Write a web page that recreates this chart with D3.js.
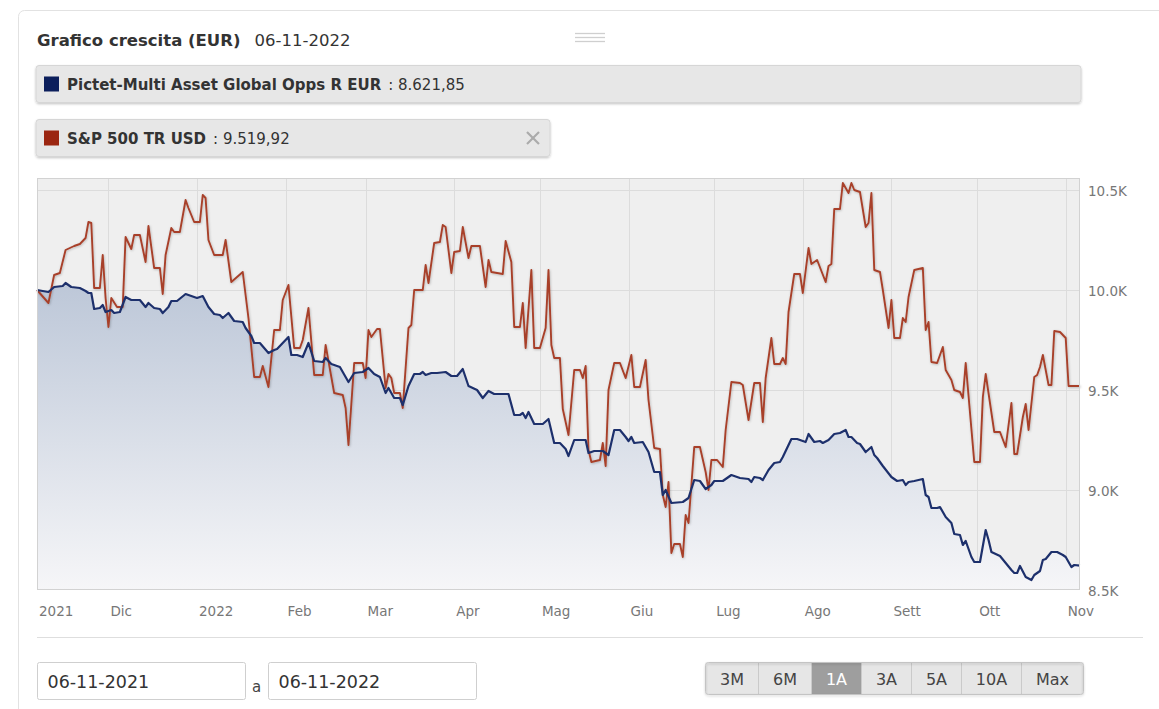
<!DOCTYPE html>
<html>
<head>
<meta charset="utf-8">
<script src="https://cdn.jsdelivr.net/npm/d3@7"></script>
<style>
  body { margin: 0; background: #fff; }
  svg { display: block; font-family: "DejaVu Sans", Verdana, sans-serif; }
</style>
</head>
<body>
<svg id="chart" width="1159" height="709"></svg>
<script>
// ---- data ----
const chartTitle = "Grafico crescita (EUR)";
const chartDate = "06-11-2022";
const fundName = "Pictet-Multi Asset Global Opps R EUR";
const fundLast = "8.621,85";
const indexName = "S&P 500 TR USD";
const indexLast = "9.519,92";
const rangeFrom = "06-11-2021";
const rangeTo = "06-11-2022";
const rangeButtons = ["3M", "6M", "1A", "3A", "5A", "10A", "Max"];
const activeButton = "1A";

const monthTicks = ["2021-11-06","2021-12-01","2022-01-01","2022-02-01","2022-03-01","2022-04-01","2022-05-01",
  "2022-06-01","2022-07-01","2022-08-01","2022-09-01","2022-10-01","2022-11-01"];
const monthLabels = ["2021","Dic","2022","Feb","Mar","Apr","Mag","Giu","Lug","Ago","Sett","Ott","Nov"];
const yTicks = [8500, 9000, 9500, 10000, 10500];

const fundSeries = [["2021-11-06",10000],["2021-11-10",9990],["2021-11-12",10015],["2021-11-15",10020],["2021-11-16",10035],["2021-11-18",10015],["2021-11-21",10010],["2021-11-23",9995],["2021-11-24",9985],["2021-11-25",9985],["2021-11-26",9905],["2021-11-28",9910],["2021-11-29",9925],["2021-11-30",9890],["2021-12-02",9900],["2021-12-03",9885],["2021-12-05",9890],["2021-12-07",9965],["2021-12-09",9950],["2021-12-12",9950],["2021-12-14",9915],["2021-12-15",9935],["2021-12-17",9910],["2021-12-19",9905],["2021-12-20",9885],["2021-12-22",9915],["2021-12-23",9945],["2021-12-25",9945],["2021-12-28",9980],["2021-12-30",9970],
  ["2022-01-01",9960],["2022-01-03",9970],["2022-01-05",9915],["2022-01-07",9880],["2022-01-09",9875],["2022-01-10",9860],["2022-01-12",9885],["2022-01-14",9845],["2022-01-17",9840],["2022-01-18",9810],["2022-01-20",9770],["2022-01-21",9735],["2022-01-23",9735],["2022-01-26",9685],["2022-01-28",9700],["2022-01-29",9705],
  ["2022-02-01",9750],["2022-02-02",9765],["2022-02-03",9675],["2022-02-05",9675],["2022-02-07",9665],["2022-02-09",9735],["2022-02-11",9645],["2022-02-14",9640],["2022-02-15",9660],["2022-02-17",9630],["2022-02-20",9615],["2022-02-23",9540],["2022-02-25",9585],["2022-02-28",9590],
  ["2022-03-02",9610],["2022-03-04",9580],["2022-03-06",9565],["2022-03-08",9485],["2022-03-09",9510],["2022-03-11",9460],["2022-03-13",9460],["2022-03-14",9425],["2022-03-16",9520],["2022-03-18",9580],["2022-03-20",9580],["2022-03-21",9590],["2022-03-22",9575],["2022-03-24",9585],["2022-03-26",9585],["2022-03-29",9590],["2022-03-31",9570],
  ["2022-04-02",9570],["2022-04-04",9605],["2022-04-06",9520],["2022-04-09",9500],["2022-04-11",9460],["2022-04-13",9495],["2022-04-15",9480],["2022-04-20",9480],["2022-04-22",9375],["2022-04-24",9375],["2022-04-25",9385],["2022-04-26",9360],["2022-04-27",9390],["2022-04-29",9330],
  ["2022-05-02",9330],["2022-05-04",9355],["2022-05-06",9235],["2022-05-08",9235],["2022-05-10",9205],["2022-05-11",9170],["2022-05-13",9250],["2022-05-17",9250],["2022-05-18",9185],["2022-05-20",9195],["2022-05-23",9195],["2022-05-25",9175],["2022-05-27",9300],["2022-05-29",9300],["2022-05-31",9265],
  ["2022-06-01",9245],["2022-06-02",9265],["2022-06-03",9235],["2022-06-06",9240],["2022-06-08",9190],["2022-06-10",9090],["2022-06-12",9090],["2022-06-13",8975],["2022-06-14",9000],["2022-06-16",8935],["2022-06-20",8940],["2022-06-22",8960],["2022-06-24",9050],["2022-06-26",9045],["2022-06-28",9005],["2022-06-30",9025],
  ["2022-07-01",9045],["2022-07-04",9045],["2022-07-06",9065],["2022-07-07",9075],["2022-07-10",9060],["2022-07-13",9055],["2022-07-14",9040],["2022-07-15",9065],["2022-07-17",9060],["2022-07-18",9050],["2022-07-20",9100],["2022-07-22",9135],["2022-07-24",9140],["2022-07-25",9165],["2022-07-28",9255],["2022-07-30",9255],
  ["2022-08-02",9240],["2022-08-03",9280],["2022-08-05",9240],["2022-08-07",9245],["2022-08-08",9235],["2022-08-10",9250],["2022-08-12",9280],["2022-08-14",9285],["2022-08-16",9300],["2022-08-17",9265],["2022-08-18",9265],["2022-08-20",9235],["2022-08-21",9230],["2022-08-23",9190],["2022-08-25",9215],["2022-08-26",9175],["2022-08-27",9160],["2022-08-29",9120],
  ["2022-09-01",9065],["2022-09-03",9045],["2022-09-05",9050],["2022-09-06",9025],["2022-09-07",9040],["2022-09-09",9045],["2022-09-12",9055],["2022-09-13",8975],["2022-09-14",8965],["2022-09-15",8910],["2022-09-17",8910],["2022-09-18",8915],["2022-09-20",8865],["2022-09-22",8835],["2022-09-23",8780],["2022-09-25",8775],["2022-09-26",8725],["2022-09-27",8745],["2022-09-29",8665],["2022-09-30",8640],
  ["2022-10-02",8640],["2022-10-04",8800],["2022-10-05",8750],["2022-10-06",8690],["2022-10-09",8670],["2022-10-11",8635],["2022-10-13",8600],["2022-10-14",8585],["2022-10-15",8585],["2022-10-16",8620],["2022-10-18",8565],["2022-10-20",8550],["2022-10-21",8575],["2022-10-23",8595],["2022-10-24",8650],["2022-10-25",8655],["2022-10-27",8690],["2022-10-29",8690],["2022-10-31",8675],
  ["2022-11-01",8665],["2022-11-03",8615],["2022-11-04",8625],["2022-11-06",8621.85]];

const indexSeries = [["2021-11-06",10000],["2021-11-10",9935],["2021-11-12",10075],["2021-11-14",10085],["2021-11-16",10200],["2021-11-19",10220],["2021-11-21",10230],["2021-11-23",10260],["2021-11-24",10340],["2021-11-25",10335],["2021-11-26",10010],["2021-11-28",10010],["2021-11-29",10175],["2021-11-30",9960],
  ["2021-12-01",9815],["2021-12-02",9960],["2021-12-04",9915],["2021-12-06",9915],["2021-12-07",10265],["2021-12-09",10205],["2021-12-10",10275],["2021-12-12",10275],["2021-12-14",10140],["2021-12-15",10320],["2021-12-17",10110],["2021-12-19",10110],["2021-12-20",9980],["2021-12-21",10175],["2021-12-23",10310],["2021-12-24",10290],["2021-12-26",10290],["2021-12-28",10450],["2021-12-29",10410],["2021-12-31",10340],
  ["2022-01-02",10340],["2022-01-03",10475],["2022-01-04",10460],["2022-01-05",10250],["2022-01-07",10175],["2022-01-10",10175],["2022-01-11",10250],["2022-01-13",10040],["2022-01-15",10065],["2022-01-17",10090],["2022-01-19",9860],["2022-01-21",9565],["2022-01-23",9565],["2022-01-24",9620],["2022-01-26",9515],["2022-01-28",9800],["2022-01-30",9800],["2022-01-31",9950],
  ["2022-02-02",10025],["2022-02-04",9710],["2022-02-06",9710],["2022-02-07",9750],["2022-02-09",9910],["2022-02-11",9575],["2022-02-14",9575],["2022-02-15",9725],["2022-02-18",9485],["2022-02-21",9475],["2022-02-22",9410],["2022-02-23",9225],["2022-02-25",9635],["2022-02-28",9635],
  ["2022-03-01",9560],["2022-03-02",9800],["2022-03-03",9765],["2022-03-05",9805],["2022-03-06",9805],["2022-03-08",9510],["2022-03-09",9580],["2022-03-10",9560],["2022-03-11",9485],["2022-03-13",9485],["2022-03-14",9410],["2022-03-16",9810],["2022-03-17",9825],["2022-03-18",10000],["2022-03-21",10000],["2022-03-22",10125],["2022-03-23",10035],["2022-03-25",10235],["2022-03-27",10240],["2022-03-28",10325],["2022-03-29",10315],["2022-03-31",10085],
  ["2022-04-01",10190],["2022-04-03",10195],["2022-04-04",10315],["2022-04-06",10160],["2022-04-07",10220],["2022-04-10",10220],["2022-04-12",10015],["2022-04-13",10150],["2022-04-14",10090],["2022-04-18",10080],["2022-04-19",10245],["2022-04-21",10140],["2022-04-22",9815],["2022-04-24",9815],["2022-04-25",9935],["2022-04-26",9710],["2022-04-28",10100],["2022-04-29",9710],
  ["2022-05-01",9710],["2022-05-03",9810],["2022-05-04",10100],["2022-05-05",9725],["2022-05-06",9660],["2022-05-08",9660],["2022-05-09",9405],["2022-05-11",9275],["2022-05-13",9600],["2022-05-15",9600],["2022-05-16",9560],["2022-05-17",9620],["2022-05-18",9200],["2022-05-19",9140],["2022-05-22",9150],["2022-05-23",9235],["2022-05-24",9120],["2022-05-25",9500],["2022-05-27",9635],["2022-05-29",9635],["2022-05-31",9560],
  ["2022-06-02",9675],["2022-06-03",9515],["2022-06-05",9515],["2022-06-07",9650],["2022-06-08",9450],["2022-06-10",9210],["2022-06-12",9205],["2022-06-13",8975],["2022-06-14",8915],["2022-06-15",9040],["2022-06-16",8685],["2022-06-17",8730],["2022-06-19",8730],["2022-06-20",8665],["2022-06-21",8875],["2022-06-22",8835],["2022-06-24",9215],["2022-06-26",9215],["2022-06-28",9090],["2022-06-29",9000],["2022-06-30",9150],
  ["2022-07-02",9150],["2022-07-04",9115],["2022-07-05",9300],["2022-07-07",9540],["2022-07-10",9535],["2022-07-11",9525],["2022-07-13",9350],["2022-07-15",9535],["2022-07-17",9535],["2022-07-18",9340],["2022-07-19",9560],["2022-07-21",9760],["2022-07-22",9630],["2022-07-24",9630],["2022-07-25",9660],["2022-07-26",9630],["2022-07-27",9890],["2022-07-29",10080],["2022-07-31",10080],
  ["2022-08-01",9985],["2022-08-03",10210],["2022-08-04",10130],["2022-08-06",10150],["2022-08-09",10040],["2022-08-10",10120],["2022-08-11",10130],["2022-08-12",10405],["2022-08-14",10405],["2022-08-15",10535],["2022-08-17",10485],["2022-08-18",10535],["2022-08-19",10500],["2022-08-21",10490],["2022-08-23",10315],["2022-08-24",10335],["2022-08-25",10485],["2022-08-26",10100],["2022-08-28",10090],["2022-08-29",10000],["2022-08-31",9810],
  ["2022-09-01",9950],["2022-09-02",9760],["2022-09-04",9760],["2022-09-05",9860],["2022-09-06",9840],["2022-09-07",9965],["2022-09-09",10100],["2022-09-12",10110],["2022-09-13",9800],["2022-09-14",9840],["2022-09-15",9640],["2022-09-17",9635],["2022-09-19",9715],["2022-09-20",9600],["2022-09-22",9550],["2022-09-23",9500],["2022-09-25",9490],["2022-09-26",9460],["2022-09-27",9635],["2022-09-30",9140],
  ["2022-10-02",9140],["2022-10-03",9465],["2022-10-04",9580],["2022-10-07",9290],["2022-10-09",9290],["2022-10-11",9215],["2022-10-13",9435],["2022-10-14",9180],["2022-10-15",9180],["2022-10-17",9365],["2022-10-18",9430],["2022-10-19",9300],["2022-10-21",9565],["2022-10-22",9575],["2022-10-23",9615],["2022-10-24",9675],["2022-10-26",9525],["2022-10-27",9525],["2022-10-28",9795],["2022-10-30",9790],
  ["2022-11-01",9760],["2022-11-02",9520],["2022-11-06",9519.92]];

// ---- setup ----
const parse = d3.timeParse("%Y-%m-%d");
const fund = fundSeries.map(d => ({ date: parse(d[0]), value: d[1] }));
const index = indexSeries.map(d => ({ date: parse(d[0]), value: d[1] }));

const svg = d3.select("#chart");
const plot = { left: 37, right: 1080, top: 178, bottom: 590 };

const x = d3.scaleTime()
  .domain([parse("2021-11-06"), parse("2022-11-06")])
  .range([plot.left, plot.right]);
const y = d3.scaleLinear()
  .domain([8500, 10560])
  .range([plot.bottom, plot.top]);

const defs = svg.append("defs");
const grad = defs.append("linearGradient")
  .attr("id", "areaFill").attr("gradientUnits", "userSpaceOnUse")
  .attr("x1", 0).attr("x2", 0).attr("y1", plot.top).attr("y2", plot.bottom);
grad.append("stop").attr("offset", "0%").attr("stop-color", "#a9b7cd");
grad.append("stop").attr("offset", "100%").attr("stop-color", "#f6f6f8");

const shadow = defs.append("filter").attr("id", "boxShadow")
  .attr("x", "-5%").attr("y", "-20%").attr("width", "110%").attr("height", "150%");
shadow.append("feDropShadow").attr("dx", 0).attr("dy", 1.2).attr("stdDeviation", 1.2)
  .attr("flood-color", "#000").attr("flood-opacity", 0.22);

const lineShadow = defs.append("filter").attr("id", "lineShadow")
  .attr("x", "-5%").attr("y", "-5%").attr("width", "110%").attr("height", "110%");
lineShadow.append("feDropShadow").attr("dx", 0.6).attr("dy", 0.8).attr("stdDeviation", 0.8)
  .attr("flood-color", "#000").attr("flood-opacity", 0.25);

// outer card
svg.append("rect")
  .attr("x", 18.5).attr("y", 10.5).attr("width", 1160).attr("height", 720).attr("rx", 6)
  .attr("fill", "none").attr("stroke", "#e2e2e2");

// title
const title = svg.append("text").attr("x", 37).attr("y", 46)
  .attr("font-size", 16.5).attr("fill", "#333");
title.append("tspan").attr("font-weight", "bold").text(chartTitle);
title.append("tspan").attr("dx", 14).text(chartDate);

// drag handle
svg.selectAll(".handle").data([33, 37, 41]).join("line")
  .attr("x1", 575).attr("x2", 605).attr("y1", d => d + 0.5).attr("y2", d => d + 0.5)
  .attr("stroke", "#cfcfcf").attr("stroke-width", 1.3);

// legend boxes
function legendBox(top, width, color, name, last, closable) {
  const g = svg.append("g").attr("transform", `translate(36,${top})`);
  g.append("rect").attr("width", width).attr("height", 37).attr("rx", 3)
    .attr("fill", "#e7e7e7").attr("stroke", "#d6d6d6").attr("filter", "url(#boxShadow)");
  g.append("rect").attr("x", 8).attr("y", 11).attr("width", 15).attr("height", 15).attr("fill", color);
  const t = g.append("text").attr("x", 31).attr("y", 24.5).attr("font-size", 15).attr("fill", "#333");
  t.append("tspan").attr("font-weight", "bold").text(name);
  t.append("tspan").attr("dx", 7).text(": " + last);
  if (closable) {
    g.selectAll(".x").data([[-1, 1], [1, 1]]).join("line")
      .attr("x1", d => width - 17 - 6 * d[0]).attr("y1", 18.5 - 6)
      .attr("x2", d => width - 17 + 6 * d[0]).attr("y2", 18.5 + 6)
      .attr("stroke", "#ababab").attr("stroke-width", 2.2);
  }
}
legendBox(65.5, 1045, "#0c1f5c", fundName, fundLast, false);
legendBox(119.5, 514, "#9b2611", indexName, indexLast, true);

// plot background + grid
svg.append("rect")
  .attr("x", plot.left).attr("y", plot.top)
  .attr("width", plot.right - plot.left).attr("height", plot.bottom - plot.top)
  .attr("fill", "#efefef");

const tickDates = monthTicks.map(parse);
svg.append("g").selectAll("line").data(tickDates.slice(1)).join("line")
  .attr("x1", d => Math.round(x(d)) + 0.5).attr("x2", d => Math.round(x(d)) + 0.5)
  .attr("y1", plot.top).attr("y2", plot.bottom)
  .attr("stroke", "#dcdcdc");
svg.append("g").selectAll("line").data(yTicks.slice(1)).join("line")
  .attr("x1", plot.left).attr("x2", plot.right)
  .attr("y1", d => Math.round(y(d)) + 0.5).attr("y2", d => Math.round(y(d)) + 0.5)
  .attr("stroke", "#dcdcdc");

// fund area + lines
const area = d3.area().x(d => x(d.date)).y0(plot.bottom).y1(d => y(d.value));
const line = d3.line().x(d => x(d.date)).y(d => y(d.value));

svg.append("path").datum(fund).attr("d", area).attr("fill", "url(#areaFill)");

svg.append("path").datum(index).attr("d", line)
  .attr("fill", "none").attr("stroke", "#a8412a").attr("stroke-width", 1.9)
  .attr("stroke-linejoin", "round").attr("filter", "url(#lineShadow)");

svg.append("path").datum(fund).attr("d", line)
  .attr("fill", "none").attr("stroke", "#1d306c").attr("stroke-width", 2.2)
  .attr("stroke-linejoin", "round");

// frame
svg.append("rect")
  .attr("x", plot.left + 0.5).attr("y", plot.top + 0.5)
  .attr("width", plot.right - plot.left - 1).attr("height", plot.bottom - plot.top - 1)
  .attr("fill", "none").attr("stroke", "#d2d2d2");

// axes
const xAxis = d3.axisBottom(x).tickValues(tickDates)
  .tickFormat((d, i) => monthLabels[i]).tickSize(0);
svg.append("g").attr("transform", `translate(0,${plot.bottom})`).call(xAxis)
  .call(g => g.select(".domain").remove())
  .call(g => g.selectAll("text")
    .attr("text-anchor", "start").attr("dx", 1.5).attr("y", 26).attr("dy", 0)
    .attr("fill", "#777").attr("font-size", 13.5).attr("font-family", "DejaVu Sans, Verdana, sans-serif"));

const yAxis = d3.axisRight(y).tickValues(yTicks)
  .tickFormat(d => d3.format(".1f")(d / 1000) + "K").tickSize(0);
svg.append("g").attr("transform", `translate(${plot.right},0)`).call(yAxis)
  .call(g => g.select(".domain").remove())
  .call(g => g.selectAll("text")
    .attr("x", 8).attr("dy", "0.4em")
    .attr("fill", "#777").attr("font-size", 13.5).attr("font-family", "DejaVu Sans, Verdana, sans-serif"));

// separator
svg.append("line").attr("x1", 37).attr("x2", 1143).attr("y1", 637.5).attr("y2", 637.5)
  .attr("stroke", "#dedede");

// date inputs
function dateInput(left, value) {
  const g = svg.append("g").attr("transform", `translate(${left},662.5)`);
  g.append("rect").attr("width", 208).attr("height", 37).attr("rx", 2)
    .attr("fill", "#fff").attr("stroke", "#cfcfcf");
  g.append("text").attr("x", 10).attr("y", 25).attr("font-size", 17.5).attr("fill", "#333").text(value);
}
dateInput(37.5, rangeFrom);
svg.append("text").attr("x", 252).attr("y", 692).attr("font-size", 15).attr("fill", "#444").text("a");
dateInput(268.5, rangeTo);

// range buttons
const btnG = svg.append("g").attr("transform", "translate(705.5,662.5)");
let bx = 0;
const btnEdges = [];
rangeButtons.forEach(label => {
  const g = btnG.append("g").attr("transform", `translate(${bx},0)`);
  const t = g.append("text").attr("y", 22).attr("font-size", 16).attr("text-anchor", "middle")
    .attr("fill", label === activeButton ? "#fff" : "#444").text(label);
  const w = Math.round(t.node().getComputedTextLength() + 29);
  g.insert("rect", "text").attr("width", w).attr("height", 32)
    .attr("fill", label === activeButton ? "#9e9e9e" : "#e6e6e6");
  t.attr("x", w / 2);
  bx += w;
  btnEdges.push(bx);
});
btnG.selectAll(".sep").data(btnEdges.slice(0, -1)).join("line")
  .attr("x1", d => d).attr("x2", d => d).attr("y1", 0).attr("y2", 32)
  .attr("stroke", "#cacaca");
btnG.append("rect").attr("width", bx).attr("height", 32).attr("rx", 3)
  .attr("fill", "none").attr("stroke", "#c4c4c4").attr("filter", "url(#boxShadow)");
</script>
</body>
</html>
